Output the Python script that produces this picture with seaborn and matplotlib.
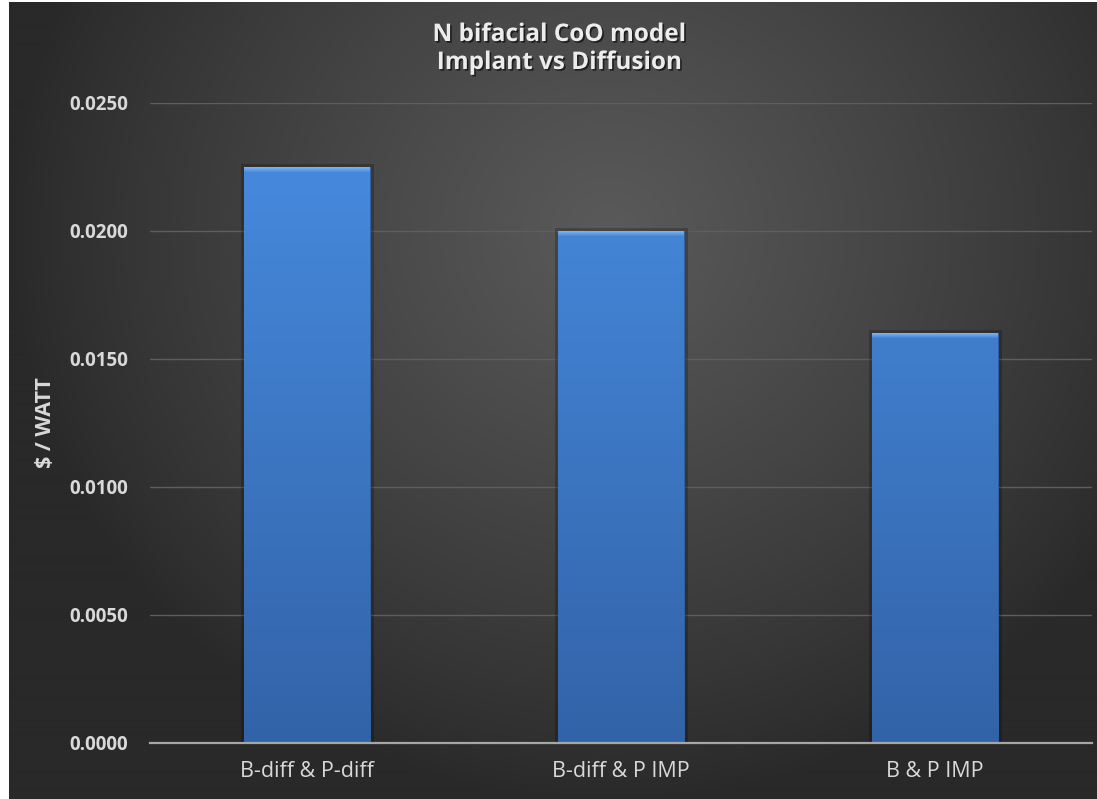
import numpy as np
import pandas as pd
import matplotlib
matplotlib.use("Agg")
import matplotlib.pyplot as plt
import matplotlib.patheffects as pe
from matplotlib.colors import to_rgb
import seaborn as sns

# Cost-of-ownership per watt for each doping route
categories = ["B-diff & P-diff", "B-diff & P IMP", "B & P IMP"]
cost_per_watt = [0.0225, 0.0200, 0.0160]
y_ticks = [0.0, 0.005, 0.010, 0.015, 0.020, 0.025]
title_lines = ["N bifacial CoO model", "Implant vs Diffusion"]
y_label = "$ / WATT"

df = pd.DataFrame({"config": categories, "cost": cost_per_watt})

sns.set_theme(style="dark")
plt.rcParams["font.family"] = ["Open Sans", "DejaVu Sans"]

W, H, DPI = 1097, 799, 100
fig = plt.figure(figsize=(W / DPI, H / DPI), dpi=DPI)
fig.patch.set_facecolor("white")

# Dark radial-gradient slide background
bg = fig.add_axes([9 / W, 0, 1 - 9 / W, 1 - 2 / H], zorder=0)
bg.set_axis_off()
yy, xx = np.mgrid[0:H, 0:W - 9]
cx, cy = 600, 230
r = np.hypot((xx - cx) * 1.0, (yy - cy) * 1.05)
t = np.clip(1 - r / 600, 0, 1) ** 0.85
lo, hi = 0x29 / 255, 0x5a / 255
shade = lo + (hi - lo) * t
bg.imshow(np.dstack([shade, shade, shade]), aspect="auto", extent=[0, 1, 0, 1],
          interpolation="bilinear")
bg.set_xlim(0, 1)
bg.set_ylim(0, 1)

ax = fig.add_axes([150 / W, 1 - 743 / H, (1092 - 150) / W, (743 - 103) / H], zorder=1)
ax.set_facecolor("none")

sns.barplot(data=df, x="config", y="cost", ax=ax, width=0.40,
            color="#4282d4", saturation=1, edgecolor="#30609e", linewidth=0.6,
            zorder=3)

ax.set_ylim(0, 0.025)
ax.set_xlim(-0.5, len(categories) - 0.5)
ax.set_yticks(y_ticks)
ax.set_yticklabels([f"{v:.4f}" for v in y_ticks], fontsize=13.5,
                   fontweight="bold", color="#d9d9d9")
ax.tick_params(axis="y", length=0, pad=16)
ax.tick_params(axis="x", length=0, pad=13, labelsize=15.5, labelcolor="#d9d9d9")
ax.set_xlabel("")
ax.set_ylabel(y_label, fontsize=15.5, fontweight="bold", color="#d9d9d9", labelpad=9)

for s in ["top", "right", "left"]:
    ax.spines[s].set_visible(False)
ax.spines["bottom"].set_color("#a6a6a6")
ax.spines["bottom"].set_linewidth(1.6)
ax.spines["bottom"].set_zorder(5)

ax.yaxis.grid(True, color="#5e5e5e", linewidth=1.0, zorder=1)
ax.xaxis.grid(False)
ax.set_axisbelow(True)

# Vertical gradient fill with a bevelled top edge on every bar
fig.canvas.draw()
top_c = np.array(to_rgb("#4689dc"))
bot_c = np.array(to_rgb("#3263a8"))
bevel_c = np.array(to_rgb("#7ab2ef"))
y_top = max(cost_per_watt)
for bar in ax.patches:
    x0, y0 = bar.get_x(), bar.get_y()
    w, h = bar.get_width(), bar.get_height()
    p0 = ax.transData.transform((x0, y0))
    p1 = ax.transData.transform((x0 + w, y0 + h))
    npx = max(int(round(p1[1] - p0[1])), 2)
    u = np.linspace(0, 1, npx)[:, None]  # 0 at top, 1 at bottom
    col = bot_c + (top_c - bot_c) * np.clip(((1 - u) * h) / y_top, 0, 1)[..., None]
    rows = np.arange(npx)[:, None, None]
    bev = np.clip(1 - rows / 5.0, 0, 1)
    col = col * (1 - bev) + bevel_c * bev
    img = np.repeat(col, 8, axis=1)
    im = ax.imshow(img, extent=[x0, x0 + w, y0, y0 + h], aspect="auto",
                   interpolation="bilinear", zorder=3.5)
    im.set_clip_path(bar)
    bar.set_path_effects([pe.withStroke(linewidth=5, foreground=(0, 0, 0, 0.22))])

ax.set_ylim(0, 0.025)
ax.set_xlim(-0.5, len(categories) - 0.5)

shadow = [pe.withSimplePatchShadow(offset=(1.2, -1.2), shadow_rgbFace="black", alpha=0.6)]
fig.text(559 / W, 1 - 41 / H, title_lines[0], ha="center", va="baseline",
         fontsize=17.5, fontweight="bold", color="#ececec", path_effects=shadow)
fig.text(559 / W, 1 - 69 / H, title_lines[1], ha="center", va="baseline",
         fontsize=17.5, fontweight="bold", color="#ececec", path_effects=shadow)

fig.savefig("out.png", dpi=DPI)
